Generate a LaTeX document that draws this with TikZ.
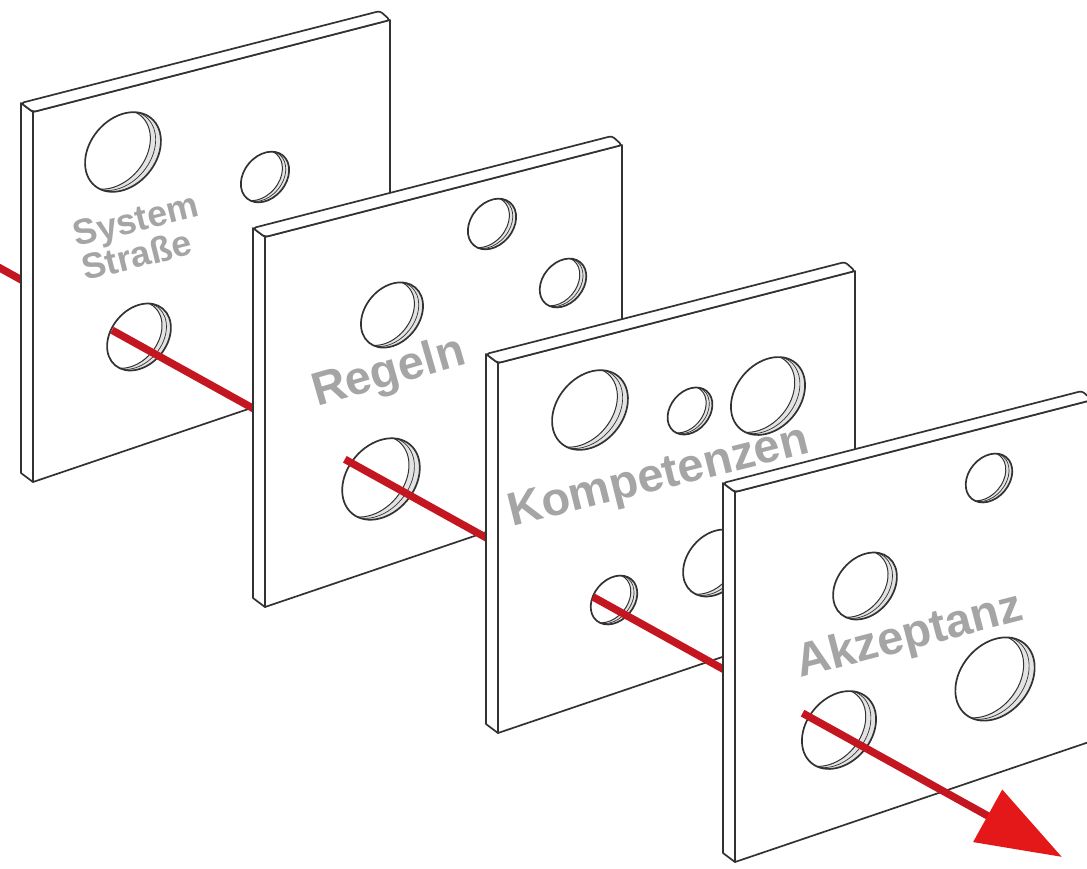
\documentclass[tikz,border=0pt]{standalone}
\usepackage{fontspec}
\newfontfamily\labelfont{Liberation Sans}
\usetikzlibrary{arrows.meta,calc}

\definecolor{edge}{RGB}{50,50,50}
\definecolor{lbl}{RGB}{165,165,165}
\definecolor{ray}{RGB}{196,22,32}
\definecolor{rayhead}{RGB}{228,24,24}

% one slab, front face hanging from its top-left corner
\newcommand{\slab}[1]{%
  \begin{scope}[shift={(#1)}]
    \draw[plate] (0,0) -- (357,-92) -- (357,249) -- (0,370) -- cycle;
    \draw[plate] (0,0) -- (-12,-9) -- (-12,361) -- (0,370) -- cycle;
    \draw[plate,rounded corners=3pt] (0,0) -- (-12,-9) -- (347,-101) -- (357,-92) -- cycle;
  \end{scope}}

% hole: centre x, centre y, half major axis
\newcommand{\hole}[3]{%
  \begin{scope}
    \clip[rotate around={50:(#1,#2)}] (#1,#2) ellipse ({#3} and {0.75*#3});
    \fill[gray!22] (#1,#2) circle ({#3});
    \filldraw[wall,rotate around={50:({#1-0.24*#3},{#2-0.06*#3})}]
      ({#1-0.24*#3},{#2-0.06*#3}) ellipse ({#3} and {0.75*#3});
    \draw[edge,line width=0.7pt,rotate around={50:({#1-0.12*#3},{#2-0.03*#3})}]
      ({#1-0.12*#3},{#2-0.03*#3}) ellipse ({#3} and {0.75*#3});
  \end{scope}
  \draw[rim,rotate around={50:(#1,#2)}] (#1,#2) ellipse ({#3} and {0.75*#3});}

\begin{document}
\begin{tikzpicture}[
  x=1pt,y=-1pt,
  plate/.style={draw=edge,line width=1.7pt,fill=white,line join=round},
  rim/.style={draw=edge,line width=1.7pt},
  wall/.style={draw=edge,line width=1pt,fill=white},
  ray/.style={draw=ray,line width=7.5pt},
  tag/.style={text=lbl,font=\labelfont\bfseries\fontsize{47}{47}\selectfont,inner sep=0pt,anchor=base west},
]
\useasboundingbox (0,0) rectangle (1087,868);
\clip (0,0) rectangle (1087,868);
\fill[white] (0,0) rectangle (1087,868);

\coordinate (src) at (-10,262.5);
\coordinate (tip) at (1062,857);

\draw[ray] (src) -- ($(src)!0.065!(tip)$);

\slab{33,112}
\hole{123}{152}{44}
\hole{265}{177}{28}
\hole{139}{337}{37}
\node[tag,rotate=14,align=left,font=\labelfont\bfseries\fontsize{36}{35}\selectfont] (sys) at (85,281) {System\\Straße};
\draw[ray] ($(src)!0.1138!(tip)$) -- ($(src)!0.289!(tip)$);

\slab{265,237}
\hole{492}{224}{28}
\hole{563}{283}{27}
\hole{392}{315}{36}
\hole{381}{479}{45}
\node[tag,rotate=16] (reg) at (317,407) {Regeln};
\draw[ray] ($(src)!0.331!(tip)$) -- ($(src)!0.513!(tip)$);

\slab{498,363}
\hole{590}{410}{44}
\hole{690}{411}{26}
\hole{768}{396}{43}
\hole{715}{563}{37}
\hole{614}{600}{27}
\node[tag,rotate=14] (kom) at (512,527) {Kompetenzen};
\draw[ray] ($(src)!0.5625!(tip)$) -- ($(src)!0.718!(tip)$);

\slab{735,492}
\hole{989}{478}{27}
\hole{865}{586}{37}
\hole{995}{679}{46}
\hole{839}{730}{43}
\node[tag,rotate=14.5] (akz) at (800,678) {Akzeptanz};
\draw[ray,-{Triangle[length=85pt,width=58pt,color=rayhead]}] ($(src)!0.758!(tip)$) -- (tip);
\end{tikzpicture}
\end{document}
